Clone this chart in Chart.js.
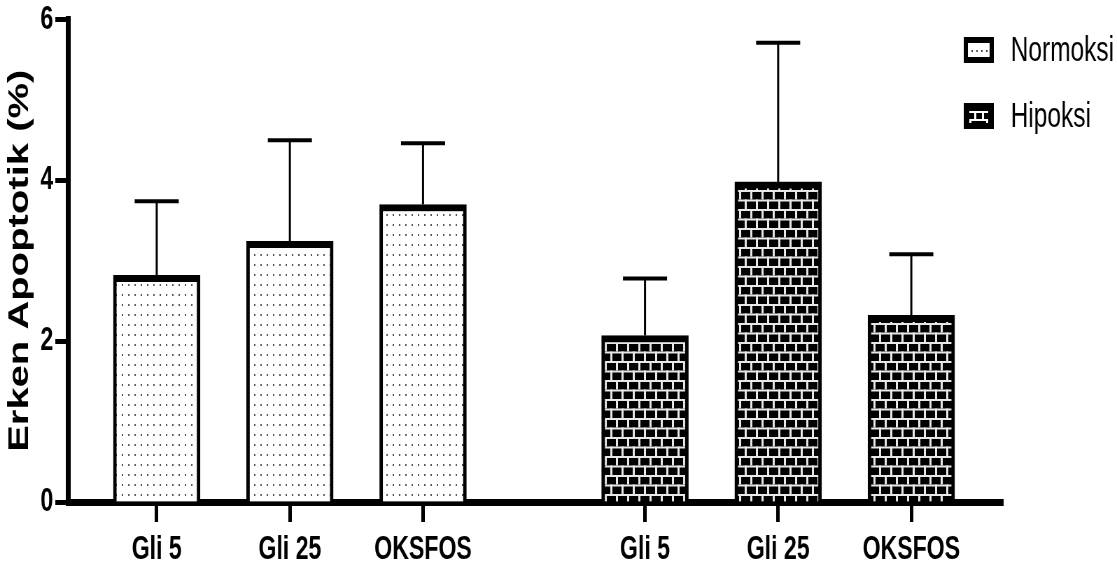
<!DOCTYPE html>
<html>
<head>
<meta charset="utf-8">
<script src="https://cdn.jsdelivr.net/npm/chart.js@4.4.1/dist/chart.umd.min.js"></script>
<style>
html,body{margin:0;padding:0;background:#fff;overflow:hidden;width:1117px;height:572px;}
#c{transform:scaleX(0.69987);transform-origin:0 0;display:block;}
</style>
</head>
<body>
<canvas id="c" width="1596" height="572"></canvas>
<script>
// ---- data ----
const categories = ['Gli 5', 'Gli 25', 'OKSFOS'];
const seriesNames = ['Normoksi', 'Hipoksi'];
const normoksiMean = [2.82, 3.24, 3.70];
const normoksiSD   = [0.92, 1.26, 0.76];
const hipoksiMean  = [2.07, 3.98, 2.32];
const hipoksiSD    = [0.71, 1.73, 0.76];
const yTickValues  = [0, 2, 4, 6];
const yTitle = 'Erken Apoptotik (%)';

// ---- layout helpers ----
const GROUP_GAP = 0.667;
function slot(g, i) { return g * (categories.length + GROUP_GAP) + i; }
const tickPositions = [];
const tickLabels = [];
[0, 1].forEach(g => categories.forEach((c, i) => { tickPositions.push(slot(g, i)); tickLabels.push(c); }));

// ---- patterns ----
function dotPattern() {
  const t = document.createElement('canvas'); t.width = 9; t.height = 10;
  const x = t.getContext('2d');
  x.fillStyle = '#fff'; x.fillRect(0, 0, 9, 10);
  x.fillStyle = '#555'; x.fillRect(3, 4, 2, 2);
  return x.createPattern(t, 'repeat');
}
function brickPattern() {
  const w = 16, h = 19;
  const t = document.createElement('canvas'); t.width = w; t.height = h;
  const x = t.getContext('2d');
  x.fillStyle = '#000'; x.fillRect(0, 0, w, h);
  x.fillStyle = '#e8e8e8';
  x.fillRect(0, 0, w, 2);
  x.fillRect(0, 9.5, w, 2);
  x.fillRect(0, 0, 3, 9.5);
  x.fillRect(8, 9.5, 3, 9.5);
  return x.createPattern(t, 'repeat');
}
const fills = [dotPattern(), brickPattern()];

const means = [normoksiMean, hipoksiMean];
const sds = [normoksiSD, hipoksiSD];

const datasets = seriesNames.map((name, g) => ({
  label: name,
  data: means[g].map((v, i) => ({ x: slot(g, i), y: v })),
  sd: sds[g],
  backgroundColor: fills[g],
  borderColor: '#000',
  borderWidth: { top: 7, left: 5, right: 5, bottom: 0 },
  borderSkipped: false,
  barThickness: 124,
  grouped: false
}));

const errorBars = {
  id: 'errorBars',
  afterDatasetsDraw(chart) {
    const ctx = chart.ctx, y = chart.scales.y;
    ctx.save();
    ctx.strokeStyle = '#000';
    chart.data.datasets.forEach((ds, di) => {
      const meta = chart.getDatasetMeta(di);
      meta.data.forEach((el, i) => {
        const top = y.getPixelForValue(ds.data[i].y + ds.sd[i]);
        ctx.lineWidth = 3;
        ctx.beginPath(); ctx.moveTo(el.x, el.y); ctx.lineTo(el.x, top); ctx.stroke();
        ctx.lineWidth = 4;
        ctx.beginPath(); ctx.moveTo(el.x - 31.5, top); ctx.lineTo(el.x + 31.5, top); ctx.stroke();
      });
    });
    ctx.restore();
  }
};

const customLegend = {
  id: 'customLegend',
  afterDraw(chart) {
    const ctx = chart.ctx;
    ctx.save();
    const bx = 1377, bw = 43, bh = 26;
    const rows = [37, 103];
    chart.data.datasets.forEach((ds, di) => {
      const by = rows[di];
      ctx.fillStyle = '#000';
      ctx.fillRect(bx, by, bw, bh);
      if (di === 0) {
        ctx.fillStyle = '#fff';
        ctx.fillRect(bx + 6, by + 6, bw - 12, bh - 12);
        ctx.fillStyle = '#444';
        for (let k = 0; k < 4; k++) ctx.fillRect(bx + 11 + k * 7, by + 13, 2, 2);
      } else {
        ctx.fillStyle = '#fff';
        ctx.fillRect(bx + 8, by + 8, bw - 16, 2);
        ctx.fillRect(bx + 8, by + 16, bw - 16, 2);
        ctx.fillRect(bx + 15, by + 8, 3, 10);
        ctx.fillRect(bx + 26, by + 8, 3, 10);
        ctx.fillRect(bx + 8, by + 16, 3, 4);
        ctx.fillRect(bx + bw - 11, by + 16, 3, 4);
      }
      ctx.fillStyle = '#000';
      ctx.font = '35px "Liberation Sans", Arial, sans-serif';
      ctx.textBaseline = 'middle';
      ctx.textAlign = 'left';
      ctx.fillText(ds.label, 1444, by + bh / 2 + 1);
    });
    ctx.restore();
  }
};

new Chart(document.getElementById('c'), {
  type: 'bar',
  data: { datasets },
  options: {
    responsive: false,
    animation: false,
    layout: { padding: { top: 17, right: 163, bottom: 0, left: 0 } },
    plugins: { legend: { display: false }, tooltip: { enabled: false } },
    scales: {
      x: {
        type: 'linear',
        offset: false,
        min: -0.667,
        max: 6.355,
        afterBuildTicks(scale) { scale.ticks = tickPositions.map(v => ({ value: v })); },
        afterFit(scale) { scale.height = 70; },
        ticks: {
          autoSkip: false, maxRotation: 0, minRotation: 0,
          color: '#000', padding: 8,
          font: { family: '"Liberation Sans", Arial, sans-serif', size: 33, weight: 'bold' },
          callback(v) {
            const k = tickPositions.findIndex(p => Math.abs(p - v) < 1e-6);
            return k >= 0 ? tickLabels[k] : '';
          }
        },
        grid: { display: true, offset: false, drawOnChartArea: false, drawTicks: true, tickLength: 20, tickWidth: 5, tickColor: '#000' },
        border: { display: true, color: '#000', width: 7 }
      },
      y: {
        min: 0, max: 6,
        afterBuildTicks(scale) { scale.ticks = yTickValues.map(v => ({ value: v })); },
        afterFit(scale) { scale.width = 97; },
        ticks: {
          color: '#000', padding: 3,
          font: { family: '"Liberation Sans", Arial, sans-serif', size: 33, weight: 'bold', lineHeight: 1 }
        },
        grid: { display: true, drawOnChartArea: false, drawTicks: true, tickLength: 18, tickWidth: 5, tickColor: '#000' },
        border: { display: true, color: '#000', width: 7 },
        title: {
          display: true, text: yTitle, color: '#000',
          font: { family: '"Liberation Sans", Arial, sans-serif', size: 40, weight: 'bold' },
          padding: { top: 5, bottom: 0 }
        }
      }
    }
  },
  plugins: [errorBars, customLegend]
});
</script>
</body>
</html>
